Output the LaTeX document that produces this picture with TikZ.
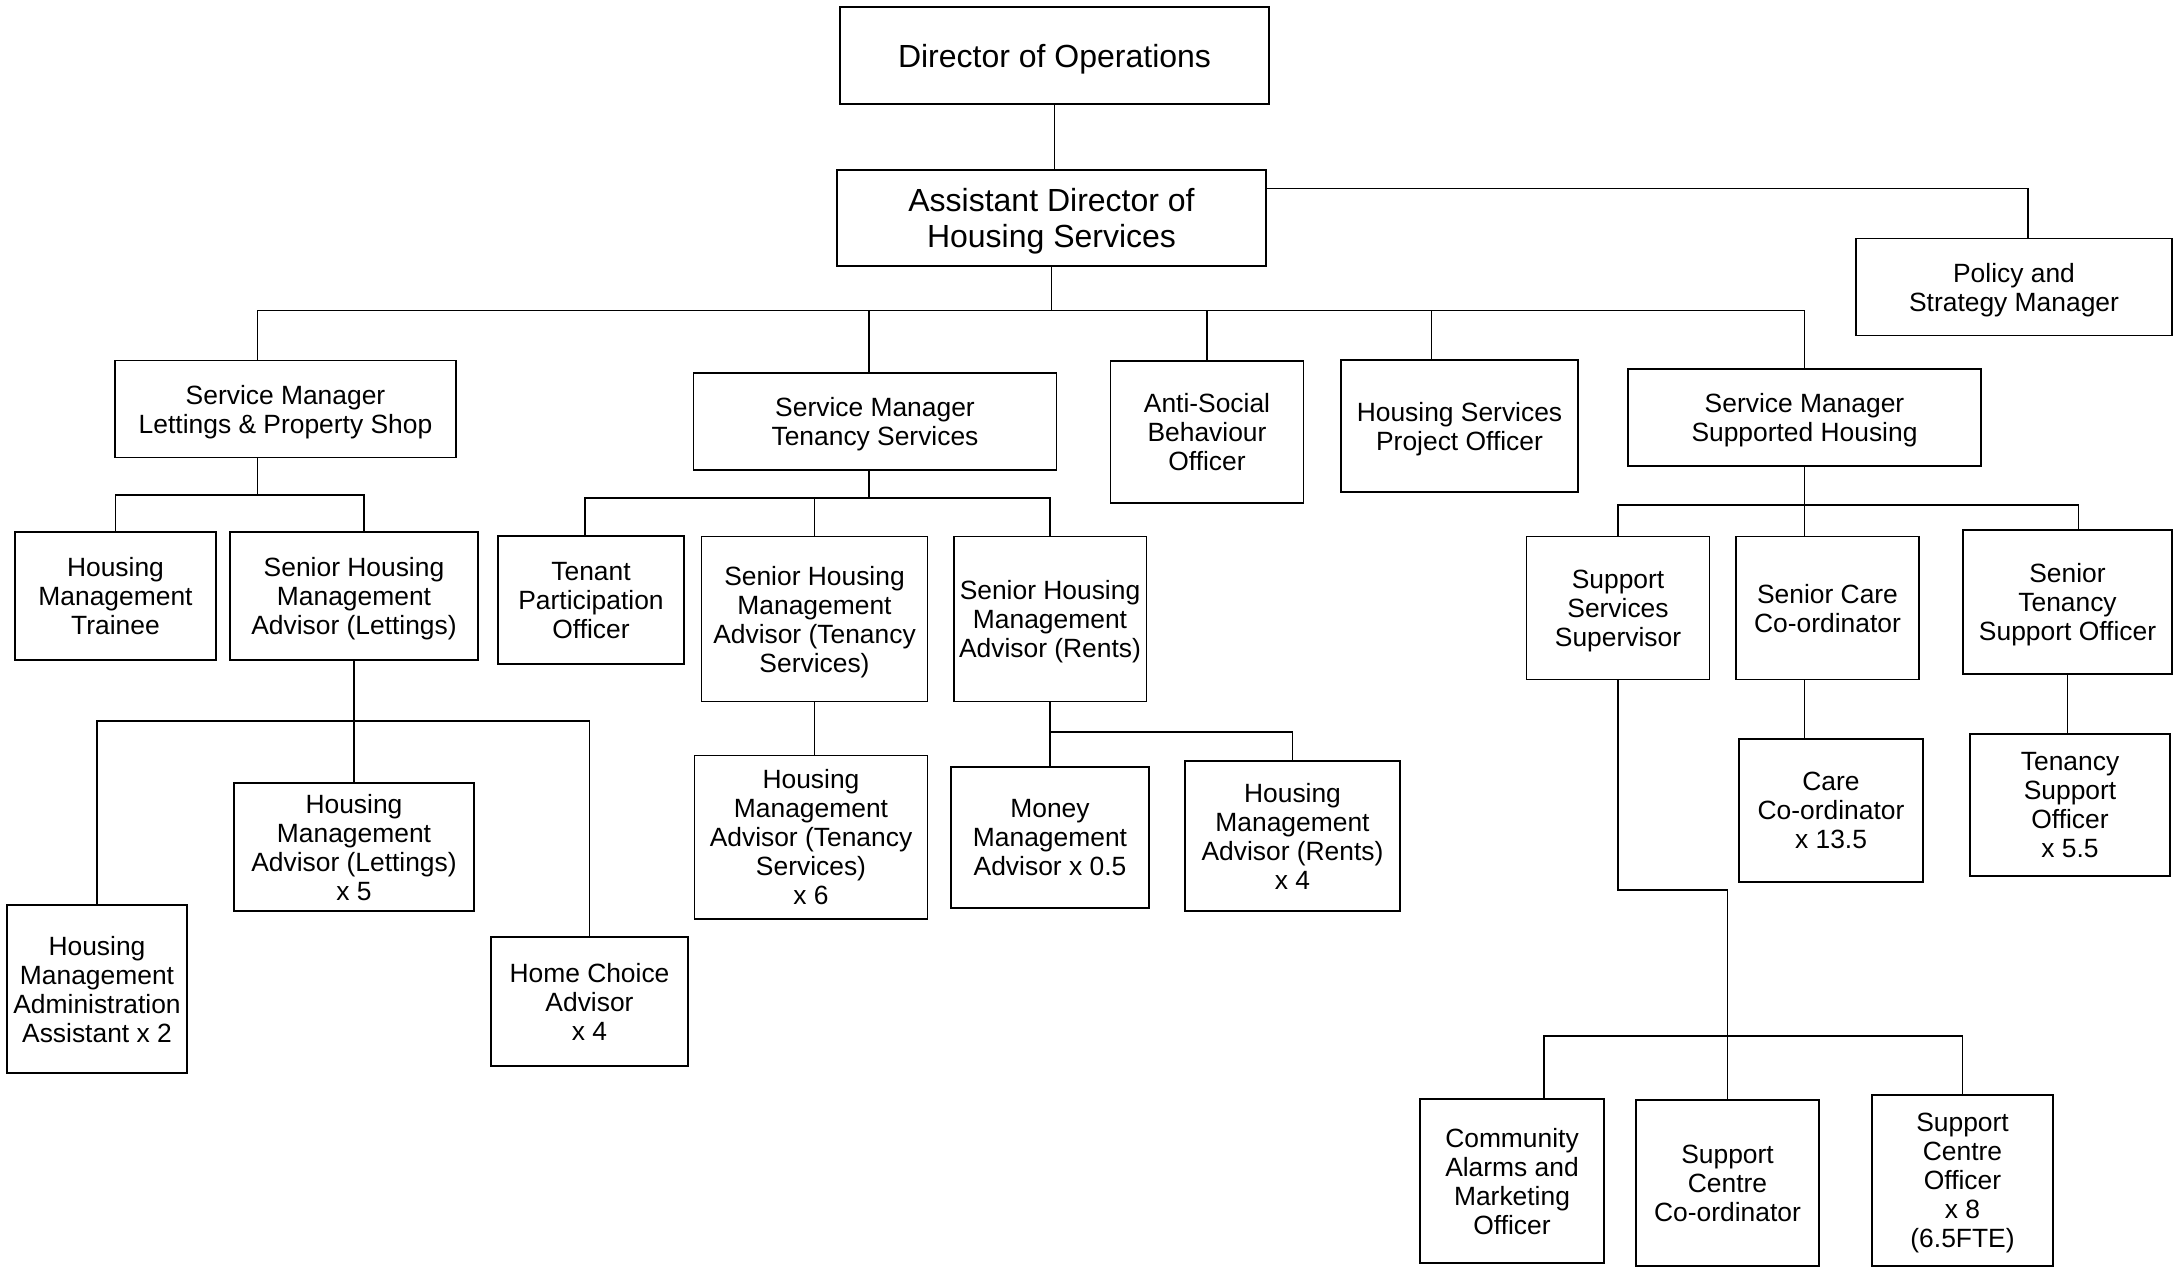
\documentclass[tikz,border=0pt]{standalone}
\usepackage{fontspec}
\setmainfont{Liberation Sans}
\usepackage{tikz}

\begin{document}
\begin{tikzpicture}[x=0.5pt,y=-0.5pt,line width=0.8pt,
	every node/.style={draw,rectangle,align=center,inner sep=0pt,font=\fontsize{13.2}{14.5}\selectfont,text depth=-1.3pt},
	big/.style={font=\fontsize{16}{18}\selectfont,text depth=-0.8pt},
	boxsize/.style 2 args={minimum width=#1*0.5pt,minimum height=#2*0.5pt}]
				\useasboundingbox (0,0) rectangle (2174,1268);
				\node[big,boxsize={429}{97}] (dir) at (1054.5,55.5){Director of Operations};
				\node[big,boxsize={429}{95.5}] (asst) at (1051.5,218){Assistant Director of\\Housing Services};
				\node[boxsize={316}{97}] (policy) at (2014,287){Policy and\\Strategy Manager};
				\node[boxsize={341}{97}] (smlet) at (285.5,409){Service Manager\\Lettings \& Property Shop};
				\node[boxsize={363}{97}] (smten) at (875,421.5){Service Manager\\Tenancy Services};
				\node[boxsize={193}{142.5}] (asb) at (1207,432){Anti-Social\\Behaviour\\Officer};
				\node[boxsize={237}{131.5}] (hspo) at (1459.5,426){Housing Services\\Project Officer};
				\node[boxsize={353}{97}] (smsup) at (1804.5,417.5){Service Manager\\Supported Housing};
				\node[boxsize={201}{128}] (trainee) at (115.5,596){Housing\\Management\\Trainee};
				\node[boxsize={248}{128}] (shmalet) at (354,596){Senior Housing\\Management\\Advisor (Lettings)};
				\node[boxsize={180}{168}] (hmaadmin) at (97,989){Housing\\Management\\Administration\\Assistant x 2};
				\node[boxsize={240}{128}] (hmalet) at (354,847){Housing\\Management\\Advisor (Lettings)\\x 5};
				\node[boxsize={197}{129}] (homechoice) at (589.5,1001.5){Home Choice\\Advisor\\x 4};
				\node[boxsize={185.5}{127.5}] (tpo) at (591,600){Tenant\\Participation\\Officer};
				\node[boxsize={226}{165}] (shmaten) at (814.5,619){Senior Housing\\Management\\Advisor (Tenancy\\Services)};
				\node[boxsize={192.6}{165}] (shmarent) at (1050,619){Senior Housing\\Management\\Advisor (Rents)};
				\node[boxsize={233}{163.4}] (hmaten) at (811,837.3){Housing\\Management\\Advisor (Tenancy\\Services)\\x 6};
				\node[boxsize={198}{141}] (money) at (1050,837.4){Money\\Management\\Advisor x 0.5};
				\node[boxsize={215}{150}] (hmarent) at (1292.5,836){Housing\\Management\\Advisor (Rents)\\x 4};
				\node[boxsize={183}{143}] (sss) at (1618,608){Support\\Services\\Supervisor};
				\node[boxsize={183}{143}] (scc) at (1827.5,608){Senior Care\\Co-ordinator};
				\node[boxsize={209}{144}] (stso) at (2067.5,601.7){Senior\\Tenancy\\Support Officer};
				\node[boxsize={184}{143}] (cc) at (1831,810.5){Care\\Co-ordinator\\x 13.5};
				\node[boxsize={200}{142.5}] (tso) at (2070,805){Tenancy\\Support\\Officer\\x 5.5};
				\node[boxsize={184}{163.5}] (cam) at (1512,1181){Community\\Alarms and\\Marketing\\Officer};
				\node[boxsize={183}{166.5}] (scco) at (1727.5,1183){Support\\Centre\\Co-ordinator};
				\node[boxsize={181}{171}] (sco) at (1962.5,1180.5){Support\\Centre\\Officer\\x 8\\(6.5FTE)};
				\coordinate (bus1) at (0,310.6);
				\coordinate (bus2) at (0,495);
				\coordinate (bus3) at (0,721);
				\coordinate (bus4) at (0,498);
				\coordinate (bus5) at (0,732);
				\coordinate (bus6) at (0,504.7);
				\coordinate (bend) at (0,890);
				\coordinate (bus7) at (0,1035.7);
				\begin{scope}[line width=0.8pt]
				\draw (dir.south) -- (dir.south |- asst.north);
				\draw ([yshift=14.7pt]asst.east) -| ([xshift=7pt]policy.north);
				\draw (asst.south) -- (asst.south |- bus1);
				\draw ([xshift=-14pt]smlet.north) |- (smsup.north |- bus1) -- (smsup.north);
				\draw ([xshift=-3pt]smten.north) -- ([xshift=-3pt]smten.north |- bus1);
				\draw (asb.north) -- (asb.north |- bus1);
				\draw ([xshift=-14pt]hspo.north) -- ([xshift=-14pt]hspo.north |- bus1);
				\draw ([xshift=-14pt]smlet.south) -- ([xshift=-14pt]smlet.south |- bus2);
				\draw (trainee.north) |- ([xshift=5pt]shmalet.north |- bus2) -- ([xshift=5pt]shmalet.north);
				\draw (shmalet.south) -- (hmalet.north);
				\draw (hmaadmin.north) |- (homechoice.north |- bus3) -- (homechoice.north);
				\draw ([xshift=-3pt]smten.south) -- ([xshift=-3pt]smten.south |- bus4);
				\draw ([xshift=-3pt]tpo.north) |- (shmarent.north |- bus4) -- (shmarent.north);
				\draw (shmaten.north) -- (shmaten.north |- bus4);
				\draw (shmaten.south) -- (shmaten.south |- hmaten.north);
				\draw (shmarent.south) -- (money.north);
				\draw (shmarent.south |- bus5) -| (hmarent.north);
				\draw (smsup.south) -- (smsup.south |- scc.north);
				\draw (sss.north) |- ([xshift=5.5pt]stso.north |- bus6) -- ([xshift=5.5pt]stso.north);
				\draw (scc.south -| smsup.south) -- (cc.north -| smsup.south);
				\draw (stso.south) -- (stso.south |- tso.north);
				\draw (sss.south) -- (sss.south |- bend) -| (scco.north);
				\draw ([xshift=16pt]cam.north) |- (sco.north |- bus7) -- (sco.north);
				\end{scope}
			\end{tikzpicture}
\end{document}
